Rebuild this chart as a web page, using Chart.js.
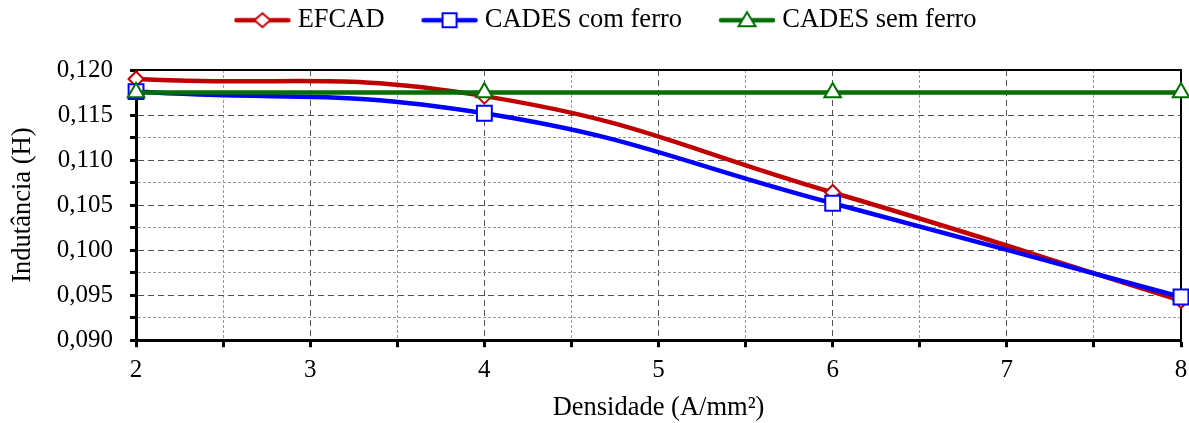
<!DOCTYPE html>
<html>
<head>
<meta charset="utf-8">
<script src="https://cdn.jsdelivr.net/npm/chart.js@4.4.0/dist/chart.umd.min.js"></script>
<style>
  body { margin: 0; background: #fff; }
</style>
</head>
<body>
<canvas id="chart" width="1189" height="423"></canvas>
<script>
// valeurs
const densidade = [2, 4, 6, 8];
const efcad = [0.1190, 0.1171, 0.1064, 0.0944];
const cadesComFerro = [0.1176, 0.1152, 0.1052, 0.0948];
const cadesSemFerro = [0.1175, 0.1175, 0.1175, 0.1175];
const seriesNames = ['EFCAD', 'CADES com ferro', 'CADES sem ferro'];

const fontFamily = "'Liberation Serif', 'Times New Roman', serif";

function isMajorX(v) { return Math.abs(v - Math.round(v)) < 1e-6; }
function isMajorY(v) { return Math.round(v * 10000) % 50 === 0; }

// petit dessin ligne + marqueur pour la légende
function legendMarker(color, shape) {
    const c = document.createElement('canvas');
    c.width = 100;
    c.height = 24;
    const g = c.getContext('2d');
    g.strokeStyle = color;
    g.lineWidth = 4.5;
    g.lineCap = 'round';
    g.beginPath();
    g.moveTo(42, 12);
    g.lineTo(94, 12);
    g.stroke();
    const cx = 68, cy = 12;
    g.fillStyle = '#fff';
    g.lineWidth = 2;
    g.beginPath();
    if (shape === 'diamond') {
        g.moveTo(cx, cy - 7); g.lineTo(cx + 8, cy); g.lineTo(cx, cy + 7); g.lineTo(cx - 8, cy); g.closePath();
    } else if (shape === 'square') {
        g.rect(cx - 7, cy - 7, 14, 14);
    } else {
        g.moveTo(cx, cy - 8); g.lineTo(cx + 8.5, cy + 6); g.lineTo(cx - 8.5, cy + 6); g.closePath();
    }
    g.fill();
    g.stroke();
    return c;
}

const legendImages = [
    legendMarker('#C00000', 'diamond'),
    legendMarker('#0000FF', 'square'),
    legendMarker('#006E00', 'triangle')
];

// cadre haut + droite
const framePlugin = {
    id: 'frame',
    beforeDatasetsDraw(chart) {
        const {ctx, chartArea} = chart;
        ctx.save();
        ctx.strokeStyle = '#000';
        ctx.lineWidth = 2;
        ctx.beginPath();
        ctx.moveTo(chartArea.left, chartArea.top);
        ctx.lineTo(chartArea.right, chartArea.top);
        ctx.lineTo(chartArea.right, chartArea.bottom);
        ctx.stroke();
        ctx.restore();
    }
};

// espace sous la légende + léger décalage à gauche
const legendSpace = {
    id: 'legendSpace',
    beforeLayout(chart) {
        const legend = chart.legend;
        if (legend && !legend._patched) {
            const fit = legend.fit;
            legend.fit = function () {
                fit.call(this);
                this.height = 70;
                if (this.lineWidths) {
                    this.lineWidths = this.lineWidths.map(w => w + 8);
                }
            };
            legend._patched = true;
        }
    }
};

function toPoints(values) {
    return densidade.map((d, i) => ({x: d, y: values[i]}));
}

const tickFont = {family: fontFamily, size: 25};
const titleFont = {family: fontFamily, size: 26.5};

const ctx = document.getElementById('chart').getContext('2d');
new Chart(ctx, {
    type: 'line',
    data: {
        datasets: [
            {
                label: seriesNames[0],
                data: toPoints(efcad),
                borderColor: '#C00000',
                borderWidth: 4.5,
                tension: 0.45,
                pointStyle: 'rectRot',
                pointRadius: 7.5,
                pointBorderWidth: 2,
                pointBackgroundColor: '#fff',
                pointBorderColor: '#C00000',
                clip: false,
                order: 3
            },
            {
                label: seriesNames[1],
                data: toPoints(cadesComFerro),
                borderColor: '#0000FF',
                borderWidth: 4.5,
                tension: 0.45,
                pointStyle: 'rect',
                pointRadius: 10.5,
                pointBorderWidth: 2,
                pointBackgroundColor: '#fff',
                pointBorderColor: '#0000FF',
                clip: false,
                order: 2
            },
            {
                label: seriesNames[2],
                data: toPoints(cadesSemFerro),
                borderColor: '#006E00',
                borderWidth: 4.5,
                tension: 0.45,
                pointStyle: 'triangle',
                pointRadius: 9.5,
                pointBorderWidth: 2,
                pointBackgroundColor: '#fff',
                pointBorderColor: '#006E00',
                clip: false,
                order: 1
            }
        ]
    },
    options: {
        responsive: false,
        animation: false,
        layout: {padding: 0, autoPadding: false},
        plugins: {
            tooltip: {enabled: false},
            legend: {
                position: 'top',
                labels: {
                    usePointStyle: true,
                    pointStyleWidth: 80,
                    padding: 7,
                    color: '#000',
                    font: {family: fontFamily, size: 26.5},
                    sort: (a, b) => a.datasetIndex - b.datasetIndex,
                    generateLabels: chart => {
                        const items = Chart.defaults.plugins.legend.labels.generateLabels(chart);
                        items.forEach(it => { it.pointStyle = legendImages[it.datasetIndex]; });
                        return items;
                    }
                }
            }
        },
        scales: {
            x: {
                type: 'linear',
                min: 2,
                max: 8,
                afterFit: axis => { axis.paddingRight = 8; },
                ticks: {
                    stepSize: 0.5,
                    autoSkip: false,
                    maxRotation: 0,
                    padding: 8,
                    color: '#000',
                    font: tickFont,
                    callback: v => isMajorX(v) ? String(Math.round(v)) : ''
                },
                grid: {
                    color: c => c.tick && isMajorX(c.tick.value) ? '#555' : '#999',
                    lineWidth: 1,
                    tickLength: 7,
                    tickWidth: 3,
                    tickColor: '#000'
                },
                border: {
                    color: '#000',
                    width: 3,
                    dash: c => c.tick ? (isMajorX(c.tick.value) ? [6, 4] : [3, 2]) : []
                },
                title: {
                    display: true,
                    text: 'Densidade (A/mm²)',
                    color: '#000',
                    font: titleFont,
                    padding: {top: -1, bottom: -1}
                }
            },
            y: {
                min: 0.09,
                max: 0.12,
                ticks: {
                    stepSize: 0.0025,
                    autoSkip: false,
                    padding: 17,
                    color: '#000',
                    font: tickFont,
                    callback: v => isMajorY(v) ? v.toFixed(3).replace('.', ',') : ''
                },
                grid: {
                    color: c => c.tick && isMajorY(c.tick.value) ? '#555' : '#999',
                    lineWidth: 1,
                    tickLength: 6,
                    tickWidth: 3,
                    tickColor: '#000'
                },
                border: {
                    color: '#000',
                    width: 3,
                    dash: c => c.tick ? (isMajorY(c.tick.value) ? [6, 4] : [3, 2]) : []
                },
                title: {
                    display: true,
                    text: 'Indutância (H)',
                    color: '#000',
                    font: titleFont,
                    padding: {top: 7, bottom: 1}
                }
            }
        }
    },
    plugins: [framePlugin, legendSpace]
});
</script>
</body>
</html>
